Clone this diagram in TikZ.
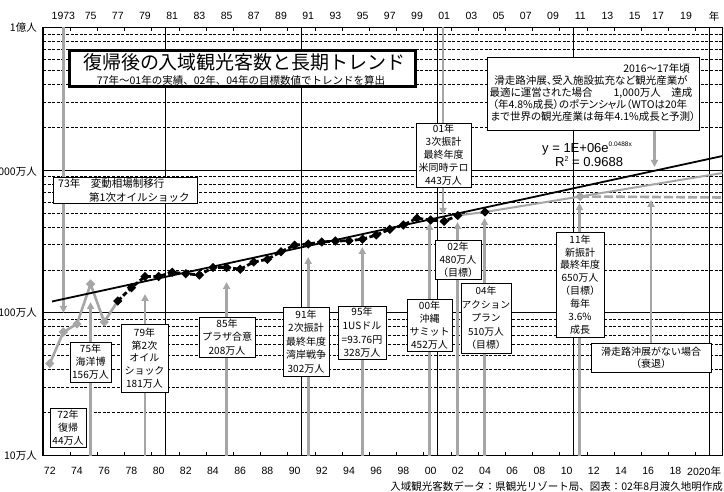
\documentclass[tikz,border=0pt]{standalone}
\usepackage{fontspec}
\setmainfont{Noto Sans CJK JP}
\newfontfamily\arialf{Liberation Sans}
\newfontfamily\jpp{Noto Sans CJK JP}[RawFeature=+palt]
\usetikzlibrary{arrows.meta,shapes.geometric}
\definecolor{lg}{RGB}{166,166,166}
\pgfdeclarelayer{back}
\pgfdeclarelayer{mid}
\pgfsetlayers{back,mid,main}
\begin{document}
\begin{tikzpicture}[x=1pt,y=-1pt,
  gridl/.style={black, line width=0.6pt, dash pattern=on 3pt off 1.6pt},
  vline/.style={black, line width=0.9pt},
  garrow/.style={lg, line width=2.6pt, -{Triangle[length=7pt,width=7pt]}},
  box/.style={draw=black, line width=0.8pt, fill=white, inner sep=0pt, align=center, font=\fontsize{10}{13.2}\selectfont},
  lab/.style={font=\arialf\fontsize{10.5}{10.5}\selectfont, inner sep=0pt},
  jlab/.style={font=\fontsize{10.5}{10.5}\selectfont, inner sep=0pt},
  bigtxt/.style={font=\jpp\fontsize{10.5}{10.5}\selectfont, inner sep=0pt},
  bdm/.style={diamond, fill=black, inner sep=0pt, minimum width=9.5pt, minimum height=9.5pt},
  gdm/.style={diamond, fill=lg, inner sep=0pt, minimum width=9.5pt, minimum height=9.5pt},
  eqf/.style={font=\arialf\fontsize{13}{13}\selectfont, inner sep=0pt}
]
\useasboundingbox (0,0) rectangle (724,492);
\clip (0,0) rectangle (724,492);

\coordinate (ftop) at (43,27.5);
\coordinate (fbot) at (43,455.5);

% ---------------- boxes (main layer) ----------------
\node[draw=black, line width=2.5pt, fill=white, minimum width=346.4pt, minimum height=36.4pt, inner sep=0pt] (title) at (242.5,68.5) {};
\node[font=\fontsize{19}{19}\selectfont, inner sep=0pt] (ttl) at (244.5,62) {復帰後の入域観光客数と長期トレンド};
\node[jlab] (sub) at (241,80.5) {77年～01年の実績、02年、04年の目標数値でトレンドを算出};

\node[box, minimum width=212pt, minimum height=73pt] (bbig) at (593,93.5) {};
\node[bigtxt, anchor=base east] (bl1) at (690,73) {2016～17年頃};
\node[bigtxt, anchor=base] (bl2) at (591,85) {滑走路沖展、受入施設拡充など観光産業が};
\node[bigtxt, anchor=base] (bl3) at (591,96.7) {最適に運営された場合　　1,000万人　達成};
\node[bigtxt, anchor=base] (bl4) at (590,108.3) {（年4.8\%成長）のポテンシャル（WTOは20年};
\node[bigtxt, anchor=base] (bl5) at (593,120.7) {まで世界の観光産業は毎年4.1\%成長と予測）};

\node[box, minimum width=144pt, minimum height=26pt] (b73) at (125,190) {};
\node[jlab, anchor=base west] (b73a) at (58,188) {73年　変動相場制移行};
\node[jlab, anchor=base west] (b73b) at (89,201.7) {第1次オイルショック};

\node[box, minimum width=36pt, minimum height=39pt, font=\fontsize{10}{13}\selectfont] (b72) at (68,427.5) {72年\\復帰\\44万人};
\node[box, minimum width=41pt, minimum height=40pt, font=\fontsize{10}{13}\selectfont] (b75) at (90.5,362) {75年\\海洋博\\156万人};
\node[box, minimum width=47pt, minimum height=68pt, font=\fontsize{10}{12.8}\selectfont] (b79) at (144.5,358) {79年\\第2次\\オイル\\ショック\\181万人};
\node[box, minimum width=56pt, minimum height=40pt, font=\fontsize{10}{13.5}\selectfont] (b85) at (227,337) {85年\\プラザ合意\\208万人};
\node[box, minimum width=46pt, minimum height=69pt, font=\fontsize{10}{13.5}\selectfont] (b91) at (306,341.5) {91年\\2次振計\\最終年度\\湾岸戦争\\302万人};
\node[box, minimum width=48pt, minimum height=53pt, font=\fontsize{10}{13.7}\selectfont] (b95) at (362,332.5) {95年\\1USドル\\=93.76円\\328万人};
\node[box, minimum width=45pt, minimum height=52pt, font=\fontsize{10}{13}\selectfont] (b00) at (429.5,325) {00年\\沖縄\\サミット\\452万人};
\node[box, minimum width=55pt, minimum height=64pt, font=\fontsize{10}{13}\selectfont] (b01) at (443.5,155) {01年\\3次振計\\最終年度\\米同時テロ\\443万人};
\node[box, minimum width=46pt, minimum height=39pt, font=\fontsize{10}{13}\selectfont] (b02) at (458,259.5) {02年\\480万人\\（目標）};
\node[box, minimum width=50pt, minimum height=70pt, font=\fontsize{9.8}{13.5}\selectfont] (b04) at (486,318) {04年\\アクション\\プラン\\510万人\\（目標）};
\node[box, minimum width=48pt, minimum height=105pt, font=\fontsize{10}{12.9}\selectfont] (b11) at (580,284.5) {11年\\新振計\\最終年度\\650万人\\（目標）\\毎年\\3.6\%\\成長};
\node[box, minimum width=120pt, minimum height=29pt, font=\fontsize{10}{12}\selectfont] (bnone) at (651,357.5) {滑走路沖展がない場合\\（衰退）};

% ---------------- equation ----------------
\node[eqf, anchor=base west] (eq1) at (542,152.5) {y = 1E+06e\raisebox{5.5pt}{\fontsize{6.5}{6.5}\selectfont 0.0488x}};
\node[eqf, anchor=base west] (eq2) at (555,167) {R\raisebox{5pt}{\fontsize{7}{7}\selectfont 2} = 0.9688};

% ---------------- axis labels ----------------
\node[jlab, anchor=east] (y1) at (37,28) {1億人};
\node[jlab, anchor=east] (y2) at (37,172) {1000万人};
\node[jlab, anchor=east] (y3) at (37,313) {100万人};
\node[jlab, anchor=east] (y4) at (37,455.5) {10万人};

\foreach \xx/\t [count=\n] in {63.4/1973,90.6/75,117.8/77,145/79,172.2/81,199.4/83,226.6/85,253.8/87,281/89,308.2/91,335.4/93,362.6/95,389.8/97,417/99,444.2/01,471.4/03,498.6/05,525.8/07,553/09,580.2/11,607.4/13,634.6/15,658/17,686/19}
  \node[lab] (tl\n) at (\xx,16) {\t};
\node[jlab] (tlnen) at (714,16) {年};

\foreach \t [count=\n from 0] in {72,74,76,78,80,82,84,86,88,90,92,94,96,98,00,02,04,06,08,10,12,14,16,18}
  \node[lab] (bl\n) at ({49.8+27.2*\n},471) {\t};
\node[jlab, anchor=west] (bl2020) at (687,471) {{\arialf 2020}年};

\node[jlab, anchor=east] (src) at (723,486) {入域観光客数データ：県観光リゾート局、図表：02年8月渡久地明作成};

% ---------------- grid (back layer) ----------------
\begin{pgfonlayer}{back}
\foreach \b in {455.5,312.83,170.17}{
  \foreach \o in {42.95,68.07,85.9,99.72,111.0,120.57,128.84,136.14}{
    \draw[gridl] (43,{\b-\o}) -- (722.5,{\b-\o});
  }
}
\draw[line width=1pt] (43,312.83) -- (722.5,312.83);
\draw[line width=1pt] (43,170.17) -- (722.5,170.17);
\foreach \xx in {165.4,301.4,437.4,573.4,709.4}
  \draw[vline] (\xx,27.5) -- (\xx,455.5);
\foreach \i in {0,...,23}{
  \draw[line width=0.8pt] ({70.2+27.2*\i},27.5) -- ++(0,4);
  \draw[line width=0.8pt] ({70.2+27.2*\i},455.5) -- ++(0,-4);
}
\draw[line width=1.2pt] (43,27.5) rectangle (722.5,455.5);
\end{pgfonlayer}

% ---------------- arrows and series (mid layer) ----------------
\begin{pgfonlayer}{mid}
\coordinate (a73e) at (63.4,313);
\coordinate (a01e) at (443,215);
\coordinate (a75e) at (90.6,302);
\coordinate (a79e) at (145,294);
\coordinate (a85e) at (226.6,282);
\coordinate (a91e) at (308.2,257);
\coordinate (a95e) at (362.3,247);
\coordinate (a00e) at (429.5,223);
\coordinate (a02e) at (457.5,222);
\coordinate (a04e) at (484.5,218);
\coordinate (a11e) at (579.5,203);
\coordinate (a16e) at (651,200);
\coordinate (a17e) at (654.5,167);
\draw[garrow] (a73e |- ftop) -- (a73e);
\draw[garrow] (a01e |- ftop) -- (a01e);
\foreach \a in {a75e,a79e,a85e,a91e,a95e,a00e,a02e,a04e,a11e}
  \draw[garrow] (\a |- fbot) -- (\a);
\draw[garrow] (bnone.north -| a16e) -- (a16e);
\draw[garrow] (bbig.south -| a17e) -- (a17e);

% data points
\coordinate (g1972) at (49.8,363.5);
\coordinate (g1973) at (63.4,332);
\coordinate (g1974) at (77,324);
\coordinate (g1975) at (90.6,284);
\coordinate (g1976) at (104.2,322);
\foreach \yr/\yy [count=\n from 0] in {1977/301,1978/287.7,1979/276.5,1980/276.5,1981/272.3,1982/273.7,1983/275,1984/267.5,1985/267.5,1986/269.2,1987/262,1988/259.3,1989/251.7,1990/245.2,1991/244,1992/242,1993/241,1994/240.7,1995/239.2,1996/235,1997/229.3,1998/225,1999/218.3,2000/220,2001/221.3,2002/215.5}
  \coordinate (k\yr) at ({117.8+13.6*\n},\yy);
\coordinate (k2004) at (485,212);
\coordinate (g2011) at (580.2,196.5);
\coordinate (e1) at (722.5,173);
\coordinate (e2) at (722.5,197.5);
\coordinate (t1) at (52,301.5);
\coordinate (t2) at (722.5,156);

\draw[lg, line width=2.6pt, line join=round] (g1972) -- (g1973) -- (g1974) -- (g1975) -- (g1976) -- (k1977);
\draw[lg, line width=2pt, line join=round] (k2002) -- (k2004) -- (g2011) -- (e1);
\draw[lg, line width=2.6pt, dash pattern=on 9pt off 3pt] (g2011) -- (e2);
\draw[black, line width=2.8pt, dash pattern=on 5pt off 2.5pt, line join=round]
  (k1977) -- (k1978) -- (k1979) -- (k1980) -- (k1981) -- (k1982) -- (k1983) -- (k1984) -- (k1985) -- (k1986) -- (k1987) -- (k1988) -- (k1989) -- (k1990) -- (k1991) -- (k1992) -- (k1993) -- (k1994) -- (k1995) -- (k1996) -- (k1997) -- (k1998) -- (k1999) -- (k2000) -- (k2001) -- (k2002);
\draw[black, line width=1.8pt] (t1) -- (t2);

\foreach \yr in {1972,1973,1974,1975,1976}
  \node[gdm] (dg\yr) at (g\yr) {};
\node[gdm] (dg2011) at (g2011) {};
\foreach \yr in {1977,1978,1979,1980,1981,1982,1983,1984,1985,1986,1987,1988,1989,1990,1991,1992,1993,1994,1995,1996,1997,1998,1999,2000,2001,2002,2004}
  \node[bdm] (dk\yr) at (k\yr) {};
\end{pgfonlayer}
\end{tikzpicture}
\end{document}
